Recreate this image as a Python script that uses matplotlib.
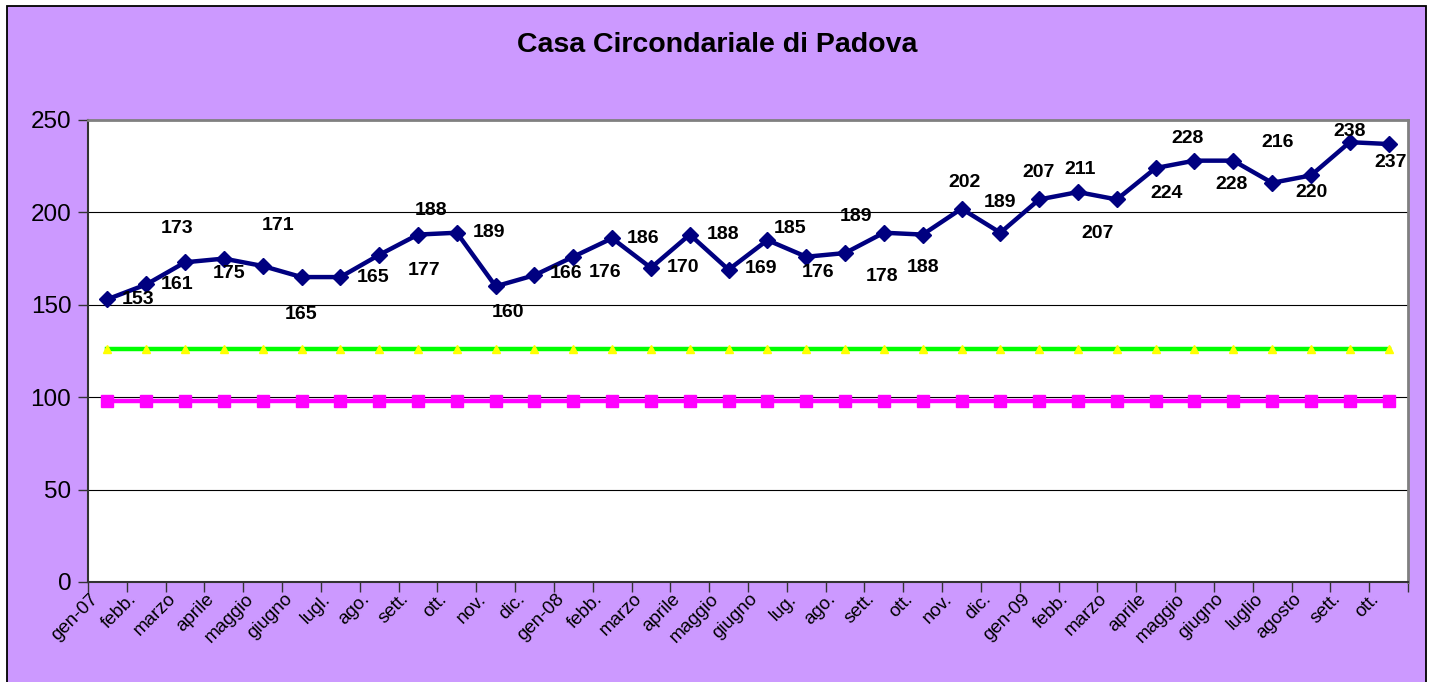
import matplotlib
matplotlib.use("Agg")
import matplotlib.pyplot as plt
from matplotlib.patches import Rectangle
from matplotlib.transforms import offset_copy
import numpy as np

plt.rcParams['font.family'] = ['Liberation Sans', 'DejaVu Sans']

categories = ["gen-07", "febb.", "marzo", "aprile", "maggio", "giugno", "lugl.", "ago.",
              "sett.", "ott.", "nov.", "dic.", "gen-08", "febb.", "marzo", "aprile",
              "maggio", "giugno", "lug.", "ago.", "sett.", "ott.", "nov.", "dic.",
              "gen-09", "febb.", "marzo", "aprile", "maggio", "giugno", "luglio",
              "agosto", "sett.", "ott."]
presenze = [153, 161, 173, 175, 171, 165, 165, 177, 188, 189, 160, 166, 176, 186,
            170, 188, 169, 185, 176, 178, 189, 188, 202, 189, 207, 211, 207, 224,
            228, 228, 216, 220, 238, 237]
capienza_tollerabile = [126] * len(categories)
capienza_regolamentare = [98] * len(categories)
yticks = [0, 50, 100, 150, 200, 250]

# label offsets in pixels (dx right, dy down) - layout only
label_offsets = [(31, 0), (31, 0), (-8, -34), (5, 15), (15, -40), (0, 37), (33, 0),
                 (45, 16), (13, -24), (32, 0), (12, 26), (32, -2), (32, 16), (31, 0),
                 (32, 0), (33, 0), (32, -1), (23, -12), (12, 16), (37, 23), (-28, -16),
                 (0, 33), (3, -26), (0, -30), (-1, -27), (2, -23), (-19, 34), (11, 25),
                 (-7, -22), (-2, 24), (6, -40), (1, 17), (0, -11), (2, 18)]

W, H = 1432, 682
fig = plt.figure(figsize=(W / 100, H / 100), dpi=100)
fig.patch.set_facecolor('white')
fig.add_artist(Rectangle((7 / W, -0.01), (1426 - 7) / W, (H - 6) / H + 0.01,
                         transform=fig.transFigure, facecolor='#CC99FF',
                         edgecolor='black', linewidth=1.3, zorder=0))

ax = fig.add_axes([88 / W, (H - 582) / H, 1320 / W, 462 / H])
ax.set_facecolor('white')
x = np.arange(len(categories))

ax.set_xlim(-0.5, len(categories) - 0.5)
ax.set_ylim(0, 250)
ax.set_yticks(yticks)
ax.set_yticklabels([str(v) for v in yticks], fontsize=17.5)
for v in yticks[1:-1]:
    ax.axhline(v, color='black', linewidth=0.8, zorder=1)

ax.set_xticks(np.arange(-0.5, len(categories), 1.0))
ax.set_xticklabels([])
ax.set_xticks(x, minor=True)
ax.set_xticklabels(categories, minor=True, rotation=45, ha='right', va='center',
                   rotation_mode='anchor', fontsize=13.5)
ax.tick_params(axis='x', which='minor', length=0, pad=14)
ax.tick_params(axis='x', which='major', length=7, width=1, color='#333333', direction='out')
ax.tick_params(axis='y', length=7, width=1, color='#333333', direction='out', pad=5)
for lbl in ax.get_xticklabels(minor=True):
    lbl.set_transform(offset_copy(lbl.get_transform(), fig=fig, x=-12, y=5, units='dots'))

for side in ['left', 'bottom']:
    ax.spines[side].set_color('#333333')
    ax.spines[side].set_linewidth(1.5)
for side in ['top', 'right']:
    ax.spines[side].set_color('#808080')
    ax.spines[side].set_linewidth(2)

ax.plot(x, capienza_tollerabile, color='#00FF00', linewidth=3.2, marker='^',
        markersize=5.5, markerfacecolor='#FFFF00', markeredgecolor='#FFFF00', zorder=3)
ax.plot(x, capienza_regolamentare, color='#FF00FF', linewidth=3.2, marker='s',
        markersize=8, markerfacecolor='#FF00FF', markeredgecolor='#FF00FF', zorder=3)
ax.plot(x, presenze, color='#000080', linewidth=3.2, marker='D', markersize=8.5,
        markerfacecolor='#000080', markeredgecolor='#000080', zorder=4)

for xi, v, (dx, dy) in zip(x, presenze, label_offsets):
    ax.annotate(str(v), (xi, v), xytext=(dx * 0.72, -dy * 0.72), textcoords='offset points',
                ha='center', va='center', fontsize=14, fontweight='bold', color='black',
                zorder=5)

fig.text(717 / W, 1 - 45 / H, "Casa Circondariale di Padova", ha='center', va='center',
         fontsize=20.5, fontweight='bold')

fig.savefig('out.png', dpi=100)
